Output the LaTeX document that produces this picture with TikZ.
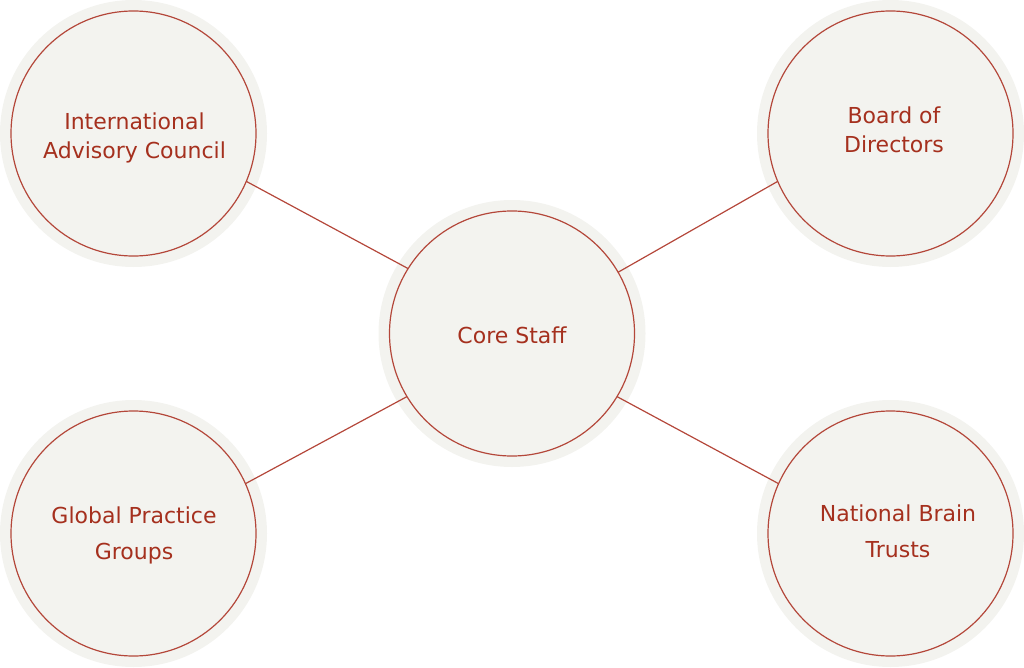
\documentclass[tikz,border=0pt]{standalone}
\usepackage{fontspec}
\setmainfont{DejaVu Sans}
\definecolor{hubred}{HTML}{A5301E}
\definecolor{hubline}{HTML}{B4473A}
\definecolor{hubfill}{HTML}{F3F3EF}
\tikzset{
  hub/.style={circle, draw=hubline, fill=hubfill, line width=1.2, minimum size=245,
    inner sep=0, outer sep=0, preaction={draw=hubfill, line width=22}},
  tag/.style={text=hubred, font=\fontsize{22}{29}\selectfont, align=center},
  link/.style={draw=hubline, line width=1.2}
}
\begin{document}
\begin{tikzpicture}[x=1pt, y=-1pt]
  \useasboundingbox (0,0) rectangle (1024,668);
  % circles
  \node[hub] (core) at (512,333.5) {};
  \node[hub] (council) at (133.5,133.5) {};
  \node[hub] (board) at (890.5,133.5) {};
  \node[hub] (groups) at (133.5,533.5) {};
  \node[hub] (trusts) at (890.5,533.5) {};
  % labels
  \node[tag] (core-t) at (512,335.5) {Core Staff};
  \node[tag] (council-t) at (134.5,138) {International\\Advisory Council};
  \node[tag] (board-t) at (894,129.5) {Board of\\Directors};
  \node[tag] (groups-t) at (134,535) {Global Practice\\[7pt]Groups};
  \node[tag] (trusts-t) at (898,531) {National Brain\\[7pt]Trusts};
  % links
  \draw[link] (council.-23.6) -- (core.148.5);
  \draw[link] (core.30.7) -- (board.203.6);
  \draw[link] (groups.24.5) -- (core.211);
  \draw[link] (core.-31) -- (trusts.156.4);
\end{tikzpicture}
\end{document}
